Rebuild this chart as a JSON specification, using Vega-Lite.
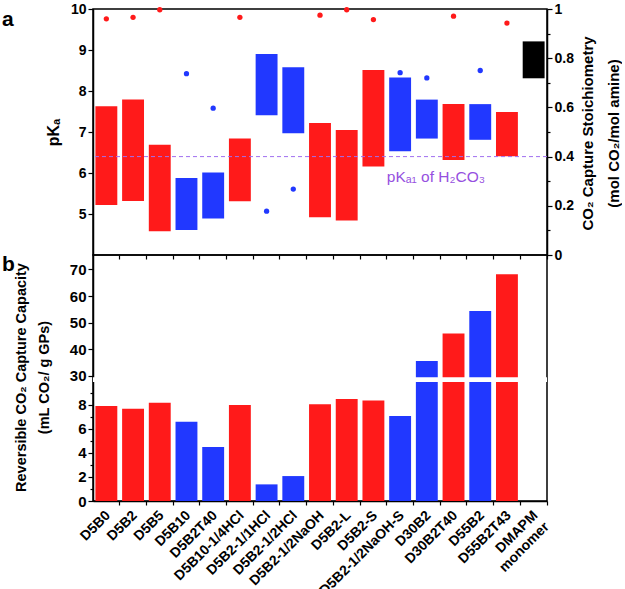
{
  "$schema": "https://vega.github.io/schema/vega-lite/v6.json",
  "padding": {"left": 1, "top": 1, "right": 0, "bottom": 0},
  "autosize": {"type": "pad"},
  "spacing": 0,
  "bounds": "flush",
  "config": {
    "font": "Liberation Sans",
    "view": {"stroke": "black", "strokeWidth": 1.5},
    "axis": {
      "domainColor": "black", "tickColor": "black", "labelColor": "black", "titleColor": "black",
      "labelFont": "Liberation Sans", "titleFont": "Liberation Sans",
      "labelFontWeight": "bold", "titleFontWeight": "bold", "grid": false,
      "domainWidth": 1.5, "tickWidth": 1.2, "labelOverlap": false
    }
  },
  "datasets": {
    "amines": [
      {"cat": "D5B0", "lo": 5.22, "hi": 7.63, "st": 0.96, "cap": 7.88, "grp": "R"},
      {"cat": "D5B2", "lo": 5.32, "hi": 7.79, "st": 0.966, "cap": 7.66, "grp": "R"},
      {"cat": "D5B5", "lo": 4.58, "hi": 6.69, "st": 0.997, "cap": 8.16, "grp": "R"},
      {"cat": "D5B10", "lo": 4.61, "hi": 5.88, "st": 0.737, "cap": 6.59, "grp": "B"},
      {"cat": "D5B2T40", "lo": 4.89, "hi": 6.01, "st": 0.597, "cap": 4.49, "grp": "B"},
      {"cat": "D5B10-1/4HCl", "lo": 5.31, "hi": 6.84, "st": 0.966, "cap": 7.97, "grp": "R"},
      {"cat": "D5B2-1/1HCl", "lo": 7.41, "hi": 8.9, "st": 0.178, "cap": 1.38, "grp": "B"},
      {"cat": "D5B2-1/2HCl", "lo": 6.97, "hi": 8.58, "st": 0.268, "cap": 2.07, "grp": "B"},
      {"cat": "D5B2-1/2NaOH", "lo": 4.92, "hi": 7.22, "st": 0.975, "cap": 8.03, "grp": "R"},
      {"cat": "D5B2-L", "lo": 4.84, "hi": 7.05, "st": 0.997, "cap": 8.46, "grp": "R"},
      {"cat": "D5B2-S", "lo": 6.16, "hi": 8.51, "st": 0.957, "cap": 8.35, "grp": "R"},
      {"cat": "D5B2-1/2NaOH-S", "lo": 6.53, "hi": 8.33, "st": 0.741, "cap": 7.06, "grp": "B"},
      {"cat": "D30B2", "lo": 6.84, "hi": 7.79, "st": 0.72, "cap": 35.6, "grp": "B"},
      {"cat": "D30B2T40", "lo": 6.32, "hi": 7.68, "st": 0.971, "cap": 45.9, "grp": "R"},
      {"cat": "D55B2", "lo": 6.81, "hi": 7.68, "st": 0.75, "cap": 54.4, "grp": "B"},
      {"cat": "D55B2T43", "lo": 6.41, "hi": 7.49, "st": 0.943, "cap": 68.2, "grp": "R"},
      {"cat": "DMAPM monomer", "lo": 8.31, "hi": 9.21, "st": null, "cap": null, "grp": "K"}
    ],
    "ref": [{"pka1": 6.4, "cat": "D5B2-1/2NaOH-S", "ty": 5.9, "label": "pKₐ₁ of H₂CO₃"}],
    "brk": [{"lo": 9.88, "hi": 29.5}],
    "pa": [{"p": "a"}],
    "pb": [{"p": "b"}]
  },
  "vconcat": [
    {
      "width": 454,
      "height": 246,
      "layer": [
        {
          "layer": [
            {
              "data": {"name": "amines"},
              "mark": {"type": "bar", "width": {"band": 0.82}},
              "encoding": {
                "x": {"field": "cat", "type": "nominal",
                  "scale": {"domain": ["D5B0","D5B2","D5B5","D5B10","D5B2T40","D5B10-1/4HCl","D5B2-1/1HCl","D5B2-1/2HCl","D5B2-1/2NaOH","D5B2-L","D5B2-S","D5B2-1/2NaOH-S","D30B2","D30B2T40","D55B2","D55B2T43","DMAPM monomer"], "paddingInner": 0, "paddingOuter": 0},
                  "axis": {"title": null, "labels": false, "bandPosition": 1, "tickSize": 4, "domain": false}},
                "y": {"field": "lo", "type": "quantitative",
                  "scale": {"domain": [4, 10], "nice": false, "zero": false},
                  "axis": {"title": "pKₐ", "values": [5, 6, 7, 8, 9, 10], "format": "d", "labelFontSize": 14, "titleFontSize": 16, "tickSize": 5, "titlePadding": 9}},
                "y2": {"field": "hi"},
                "color": {"field": "grp", "type": "nominal", "scale": {"domain": ["R", "B", "K"], "range": ["#ff1a1a", "#2138ff", "#000000"]}, "legend": null}
              }
            },
            {
              "data": {"name": "ref"},
              "mark": {"type": "rule", "strokeDash": [4, 3], "color": "#a070f0", "strokeWidth": 1},
              "encoding": {"y": {"field": "pka1", "type": "quantitative"}}
            },
            {
              "data": {"name": "ref"},
              "mark": {"type": "text", "align": "left", "baseline": "middle", "fontSize": 15.5, "color": "#9650e0", "font": "Liberation Sans"},
              "encoding": {
                "x": {"field": "cat", "type": "nominal", "bandPosition": 0},
                "y": {"field": "ty", "type": "quantitative"},
                "text": {"field": "label"}
              }
            },
            {
              "data": {"name": "pa"},
              "mark": {"type": "text", "align": "left", "baseline": "alphabetic", "dx": -91, "dy": 17, "fontSize": 21, "fontWeight": "bold", "color": "black", "font": "Liberation Sans"},
              "encoding": {
                "x": {"datum": "D5B0", "type": "nominal", "bandPosition": 0},
                "y": {"datum": 10, "type": "quantitative"},
                "text": {"field": "p"}
              }
            }
          ]
        },
        {
          "data": {"name": "amines"},
          "mark": {"type": "circle", "size": 28, "opacity": 1},
          "encoding": {
            "x": {"field": "cat", "type": "nominal"},
            "y": {"field": "st", "type": "quantitative",
              "scale": {"domain": [0, 1], "nice": false},
              "axis": {"orient": "right", "title": ["CO₂ Capture Stoichiometry", "(mol CO₂/mol amine)"], "titleAngle": -90, "titleBaseline": "top", "titleAlign": "center", "titleFontSize": 15, "titleLineHeight": 26, "titleX": 33, "titleY": 124,
                "values": [0, 0.1, 0.2, 0.3, 0.4, 0.5, 0.6, 0.7, 0.8, 0.9, 1], "tickCount": 30, "format": "~g", "labelOverlap": false,
                "labelExpr": "round(datum.value*10) % 2 === 0 ? datum.label : ''", "labelFontSize": 14,
                "tickSize": {"condition": {"test": "round(datum.value*10) % 2 === 1", "value": 3}, "value": 5}}},
            "color": {"field": "grp", "type": "nominal", "legend": null}
          }
        }
      ],
      "resolve": {"scale": {"y": "independent"}}
    },
    {
      "width": 454,
      "height": 246,
      "layer": [
        {
          "data": {"name": "amines"},
          "mark": {"type": "bar", "width": {"band": 0.82}},
          "encoding": {
            "x": {"field": "cat", "type": "nominal",
              "scale": {"domain": ["D5B0","D5B2","D5B5","D5B10","D5B2T40","D5B10-1/4HCl","D5B2-1/1HCl","D5B2-1/2HCl","D5B2-1/2NaOH","D5B2-L","D5B2-S","D5B2-1/2NaOH-S","D30B2","D30B2T40","D55B2","D55B2T43","DMAPM monomer"], "paddingInner": 0, "paddingOuter": 0},
              "axis": {"title": null, "bandPosition": 1, "tickSize": 4, "labelAngle": -45, "labelAlign": "right", "labelBaseline": "top", "labelFontSize": 14, "labelPadding": 3, "labelOffset": -3, "labelOverlap": false,
                "labelExpr": "datum.value === 'DMAPM monomer' ? ['DMAPM', 'monomer'] : datum.value"}},
            "y": {"field": "cap", "type": "quantitative",
              "scale": {"domain": [0, 9.88, 29.5, 75.4], "range": [246, 127, 122.3, 0], "nice": false, "zero": false},
              "axis": {"title": ["Reversible CO₂ Capture Capacity", "(mL CO₂/ g GPs)"], "titleFontSize": 14.5, "titleLineHeight": 23, "titleAngle": -90, "titleBaseline": "top", "titleAlign": "center", "titleX": -79, "titleY": 122,
                "values": [0, 1, 2, 3, 4, 5, 6, 7, 8, 9, 30, 40, 50, 60, 70], "tickCount": 40, "format": "d", "labelOverlap": false,
                "labelExpr": "datum.value < 10 && datum.value % 2 === 1 ? '' : datum.label",
                "labelFontSize": 15,
                "tickSize": {"condition": {"test": "datum.value < 10 && datum.value % 2 === 1", "value": 3}, "value": 5}}},
            "color": {"field": "grp", "type": "nominal", "scale": {"domain": ["R", "B", "K"], "range": ["#ff1a1a", "#2138ff", "#000000"]}, "legend": null}
          }
        },
        {
          "data": {"name": "brk"},
          "mark": {"type": "rect", "color": "white"},
          "encoding": {"y": {"field": "lo", "type": "quantitative"}, "y2": {"field": "hi"}}
        },
        {
          "data": {"name": "pb"},
          "mark": {"type": "text", "align": "left", "baseline": "alphabetic", "dx": -91, "dy": 16, "fontSize": 21, "fontWeight": "bold", "color": "black", "font": "Liberation Sans"},
          "encoding": {
            "x": {"datum": "D5B0", "type": "nominal", "bandPosition": 0},
            "y": {"datum": 75.4, "type": "quantitative"},
            "text": {"field": "p"}
          }
        }
      ]
    }
  ]
}
